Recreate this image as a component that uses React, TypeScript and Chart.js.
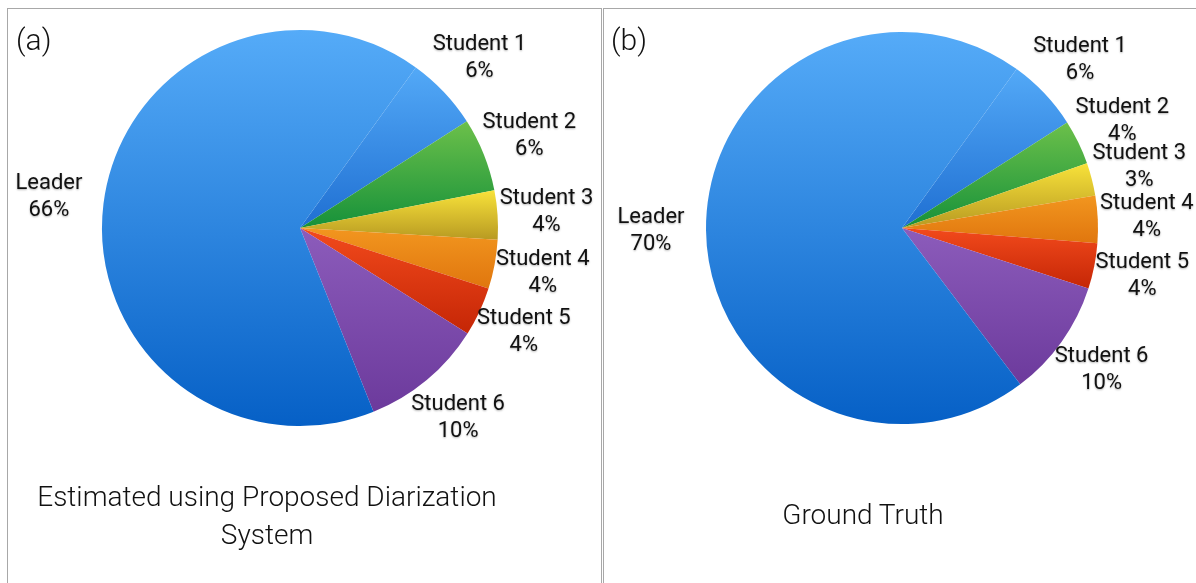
import React, { useEffect, useRef } from "react";
import { Chart, registerables } from "chart.js";

Chart.register(...registerables);

const categories = ["Student 1", "Student 2", "Student 3", "Student 4", "Student 5", "Student 6", "Leader"];
const estimatedValues = [6, 6, 4, 4, 4, 10, 66];
const groundTruthValues = [6, 3.7, 2.7, 3.9, 3.75, 9.7, 70.25];

const topColors = ["#53a9f7", "#6cc04a", "#f8e23a", "#f2961f", "#f24a1c", "#8c5cbb", "#55abf8"];
const bottomColors = ["#1f6fd2", "#16913a", "#b89a22", "#e0760e", "#c52606", "#6c3a9c", "#0660c6"];

const FONT = "Roboto, 'Liberation Sans', Arial, Helvetica, sans-serif";
const TITLE_FONT = "Roboto, 'Liberation Sans', Arial, sans-serif";

function sliceGradient(ctx: any) {
  const chart = ctx.chart;
  const area = chart.chartArea;
  if (!area) return topColors[ctx.dataIndex];
  const data: number[] = chart.data.datasets[0].data as number[];
  const total = data.reduce((a, b) => a + b, 0);
  const rot = ((chart.options.rotation || 0) * Math.PI) / 180 - Math.PI / 2;
  let start = rot;
  for (let i = 0; i < ctx.dataIndex; i++) start += (data[i] / total) * Math.PI * 2;
  const end = start + (data[ctx.dataIndex] / total) * Math.PI * 2;
  const cx = (area.left + area.right) / 2;
  const cy = (area.top + area.bottom) / 2;
  const r = Math.min(area.right - area.left, area.bottom - area.top) / 2;
  const ys = [cy, cy + r * Math.sin(start), cy + r * Math.sin(end)];
  for (let k = -4; k <= 4; k++) {
    const a = Math.PI / 2 + k * Math.PI;
    if (a > start && a < end) ys.push(cy + r * Math.sin(a));
  }
  const y0 = Math.min(...ys);
  const y1 = Math.max(...ys);
  const g = chart.ctx.createLinearGradient(0, y0, 0, y1 + 0.01);
  g.addColorStop(0, topColors[ctx.dataIndex]);
  g.addColorStop(1, bottomColors[ctx.dataIndex]);
  return g;
}

const outsideLabels = {
  id: "outsideLabels",
  afterDatasetsDraw(chart: any) {
    const meta = chart.getDatasetMeta(0);
    const data: number[] = chart.data.datasets[0].data;
    const c = chart.ctx;
    c.save();
    c.font = `400 22px ${FONT}`;
    c.fillStyle = "#111";
    c.textAlign = "center";
    c.textBaseline = "middle";
    c.shadowColor = "rgba(0,0,0,0.3)";
    c.shadowBlur = 2;
    c.shadowOffsetY = 1;
    meta.data.forEach((arc: any, i: number) => {
      const p = arc.getProps(["x", "y", "startAngle", "endAngle", "outerRadius"], true);
      const mid = (p.startAngle + p.endAngle) / 2;
      const d = p.outerRadius + 49 + 6 * Math.max(0, -Math.cos(mid));
      const x = p.x + Math.cos(mid) * d;
      const y = p.y + Math.sin(mid) * d;
      c.fillText(chart.data.labels[i], x, y - 13.5);
      c.fillText(`${Math.round(data[i])}%`, x, y + 13.5);
    });
    c.restore();
  },
};

function PieChart({ values, padding }: { values: number[]; padding: any }) {
  const ref = useRef<HTMLCanvasElement>(null);
  useEffect(() => {
    if (!ref.current) return;
    const chart = new Chart(ref.current, {
      type: "pie",
      data: {
        labels: categories,
        datasets: [
          {
            data: values,
            backgroundColor: sliceGradient as any,
            borderWidth: 0,
          },
        ],
      },
      options: {
        responsive: true,
        maintainAspectRatio: false,
        animation: false,
        rotation: 35.8,
        layout: { padding },
        plugins: { legend: { display: false }, tooltip: { enabled: false } },
      } as any,
      plugins: [outsideLabels],
    });
    return () => chart.destroy();
  }, []);
  return <canvas ref={ref} />;
}

export default function App() {
  const panelBorder = "1px solid #a8a8a8";
  const titleStyle: any = { position: "absolute", fontFamily: TITLE_FONT, fontWeight: 300, fontSize: 28, lineHeight: "38px", textAlign: "center", color: "#111" };
  return (
    <div style={{ position: "absolute", left: 0, top: 0, width: 1196, height: 583, overflow: "hidden", background: "#fff", fontFamily: FONT }}>
      <div style={{ position: "absolute", left: 7, top: 8, width: 593, height: 600, borderLeft: panelBorder, borderTop: panelBorder, borderRight: panelBorder }} />
      <div style={{ position: "absolute", left: 603, top: 8, width: 620, height: 600, borderLeft: panelBorder, borderTop: panelBorder }} />
      <div style={{ position: "absolute", left: 0, top: 0, width: 600, height: 583 }}>
        <PieChart values={estimatedValues} padding={{ left: 102, right: 102, top: 30, bottom: 157 }} />
      </div>
      <div style={{ position: "absolute", left: 602, top: 0, width: 594, height: 583 }}>
        <PieChart values={groundTruthValues} padding={{ left: 104, right: 98, top: 32, bottom: 159 }} />
      </div>
      <div style={{ ...titleStyle, left: 16, top: 21, fontSize: 30, textAlign: "left" }}>(a)</div>
      <div style={{ ...titleStyle, left: 611, top: 21, fontSize: 30, textAlign: "left" }}>(b)</div>
      <div style={{ ...titleStyle, left: 0, width: 534, top: 478 }}>
        Estimated using Proposed Diarization
        <br />
        System
      </div>
      <div style={{ ...titleStyle, left: 663, width: 400, top: 496 }}>Ground Truth</div>
    </div>
  );
}
